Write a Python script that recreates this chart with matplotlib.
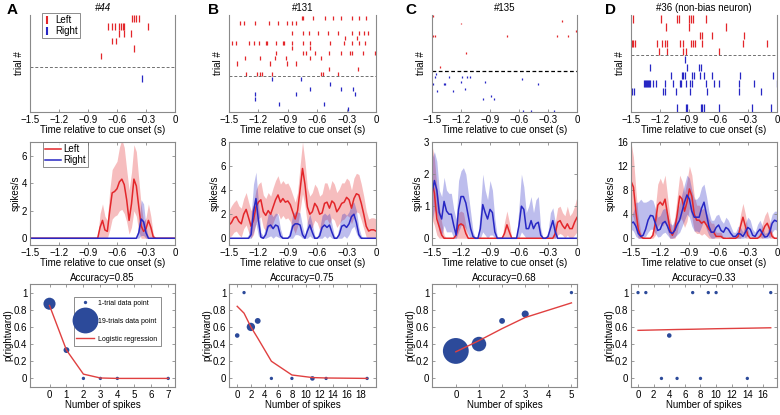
import numpy as np
import matplotlib.pyplot as plt
from matplotlib.lines import Line2D

plt.rcParams['font.family'] = ['Liberation Sans', 'DejaVu Sans']
plt.rcParams['font.size'] = 7

# ---------------- data ----------------
neuron_titles = ['#44', '#131', '#135', '#36 (non-bias neuron)']
accuracy = [0.85, 0.75, 0.68, 0.33]

# raster spike times (s), one list per trial, listed top to bottom
A_left = [[-0.44, -0.42, -0.40, -0.37],
          [-0.69, -0.655, -0.62, -0.58, -0.56, -0.54, -0.53, -0.28],
          [-0.58, -0.53, -0.46],
          [-0.65, -0.61],
          [-0.42],
          [-0.77],
          []]
A_right = [[], [-0.34], [], [], [], []]

B_left = [[-0.755, -0.74, -0.64, -0.52, -0.44, -0.36, -0.24, -0.17, -0.10],
          [-1.39, -1.35, -1.23, -1.09, -1.0, -0.91, -0.86, -0.82],
          [],
          [-0.86, -0.74, -0.68, -0.59, -0.49, -0.39, -0.24, -0.17, -0.12, -0.08],
          [-0.32, -0.19],
          [-1.47, -1.43, -1.30, -1.24, -1.19, -1.12, -1.11, -1.02, -0.95, -0.94,
           -0.86, -0.75, -0.67, -0.47, -0.33, -0.24, -0.17, -0.11],
          [-0.86, -0.67],
          [-1.02, -0.74, -0.71, -0.62, -0.48, -0.36, -0.27, -0.25, -0.13, -0.01],
          [-1.34, -1.18, -1.03, -0.92, -0.67, -0.56],
          [-1.42, -1.08, -0.91, -0.82],
          [-0.48, -0.18],
          [-1.33, -1.21, -1.18, -1.16, -1.06, -0.56, -0.54, -0.39]]
B_right = [[-1.06, -0.77], [-0.47], [-0.67, -0.36, -0.23], [-1.23, -0.82, -0.21],
           [-1.23], [-0.99, -0.53], [-0.29]]

C_left = [[-1.49], [], [-0.16], [-1.20], [], [], [-0.01], [],
          [-1.49, -1.47, -0.72, -0.21, -0.09],
          [], [], [], [], [], [],
          [-1.15], [], [], [], [], [], [-1.42], []]
C_right = [[], [-1.46], [-1.47, -1.32, -1.19, -1.14, -1.11], [-0.57], [-1.20, -0.95],
           [-1.49, -1.38, -1.37, -0.40], [], [-1.16], [-1.45, -1.28], [], [-0.89],
           [-0.97, -0.86], [], [], [], [], [-0.56, -0.48, -0.24]]

D_left = [[-1.48, -1.19, -1.03, -1.01, -0.90, -0.88, -0.86, -0.73],
          [-1.14, -0.90, -0.52],
          [-0.79, -0.77, -0.67, -0.34],
          [-1.49, -1.48, -1.46, -1.23, -1.18, -1.15, -1.13, -1.0, -0.97, -0.88,
           -0.86, -0.84, -0.77, -0.35, -0.10],
          [-1.21, -1.13, -0.97, -0.93, -0.60]]
D_right = [[-0.95],
           [-1.30, -0.92, -0.80, -0.78],
           [-1.09, -0.98, -0.97, -0.95, -0.87, -0.85, -0.79, -0.75, -0.67, -0.38, -0.04],
           [-1.37, -1.36, -1.35, -1.34, -1.33, -1.32, -1.30, -1.27, -1.24, -1.15, -1.07,
            -1.0, -0.99, -0.94, -0.89, -0.87, -0.73, -0.65, -0.60, -0.39, -0.24, -0.005],
           [-1.49, -1.47, -1.17, -1.15, -1.04, -0.89, -0.72, -0.39, -0.16],
           [],
           [-1.03, -0.94, -0.92, -0.78, -0.77, -0.75, -0.60, -0.26, -0.06]]

# firing rates (spikes/s) sampled every 25 ms from -1.5 s to 0 s (61 samples)
psth_t = np.linspace(-1.5, 0, 61)

A_red = [0] * 28 + [0, 0.8, 1.3, 0.6, 0.5, 2.0, 3.3, 3.4, 3.6, 4.1, 4.3, 3.9, 2.8, 1.3,
                    2.5, 4.3, 3.8, 2.3, 0.9, 0.5, 0.7, 1.3, 0.8, 0.1] + [0] * 9
A_red_hi = [0] * 28 + [0.1, 1.8, 2.5, 1.6, 1.3, 3.5, 5.0, 5.3, 5.6, 6.6, 7.2, 6.6, 5.0, 3.5,
                       4.8, 6.8, 6.3, 4.3, 2.4, 1.2, 1.5, 2.5, 1.6, 0.3] + [0] * 9
A_red_lo = [0] * 33 + [0.6, 1.4, 1.6, 1.7, 2.0, 2.1, 1.8, 1.2, 0.3, 0.8, 2.0, 1.6, 0.5] + [0] * 15
A_blue = [0] * 45 + [0.4, 1.4, 1.2, 0.4] + [0] * 12
A_blue_hi = [0] * 45 + [1.0, 2.8, 2.5, 0.9] + [0] * 12
A_blue_lo = [0] * 46 + [0.2, 0.2] + [0] * 13

B_red = [1.1, 1.3, 1.7, 1.8, 1.4, 1.2, 2.0, 2.4, 1.7, 1.0,
         1.5, 2.6, 3.0, 3.2, 2.2, 1.9, 2.3, 2.0, 2.6, 3.2,
         3.6, 3.0, 3.3, 3.0, 3.1, 2.8, 2.2, 1.6, 2.3, 4.0,
         5.8, 4.5, 2.6, 2.0, 2.2, 2.9, 2.6, 2.0, 2.1, 2.9,
         3.0, 2.5, 3.1, 2.9, 2.2, 2.5, 2.9, 3.0, 3.4, 3.2,
         2.5, 3.3, 3.7, 3.6, 2.9, 2.0, 1.0, 0.6, 0.7, 0.7, 0.6]
B_red_hi = [2.3, 2.7, 3.0, 3.2, 2.7, 2.5, 3.3, 3.8, 3.0, 2.3,
            2.8, 4.0, 4.5, 4.7, 3.6, 3.3, 3.8, 3.5, 4.2, 4.8,
            5.2, 4.5, 4.8, 4.5, 4.6, 4.2, 3.6, 3.0, 3.8, 6.0,
            8.0, 6.4, 4.2, 3.5, 3.8, 4.5, 4.2, 3.5, 3.7, 4.6,
            4.6, 4.0, 4.8, 4.5, 3.8, 4.1, 4.6, 4.6, 5.0, 4.8,
            4.0, 5.0, 5.4, 5.3, 4.5, 3.5, 2.3, 1.6, 1.7, 1.7, 1.6]
B_red_lo = [0.1, 0.2, 0.5, 0.6, 0.3, 0.1, 0.8, 1.1, 0.5, 0.0,
            0.3, 1.3, 1.6, 1.8, 0.9, 0.6, 1.0, 0.8, 1.3, 1.8,
            2.1, 1.6, 1.9, 1.6, 1.7, 1.4, 0.9, 0.4, 1.0, 2.3,
            3.7, 2.7, 1.2, 0.7, 0.9, 1.5, 1.3, 0.7, 0.8, 1.5,
            1.6, 1.2, 1.7, 1.5, 0.9, 1.2, 1.5, 1.6, 1.9, 1.8,
            1.2, 1.8, 2.2, 2.1, 1.5, 0.8, 0.1, 0.0, 0.0, 0.0, 0.0]
B_blue = [0] * 9 + [0.3, 2.2, 3.3, 1.5, 0.1, 0.0, 0.3, 1.0, 1.1, 0.8, 1.1, 1.0, 0.2, 0.0,
                    0.0, 0.0, 0.2, 1.0, 1.2, 1.2, 1.1, 0.3, 0.0, 0.6, 1.1, 0.5, 0.0, 0.0,
                    0.2, 0.9, 1.1, 0.9, 1.1, 0.5, 0.0, 0.0, 0.3, 1.0, 1.1, 0.9, 1.2, 1.8,
                    2.0, 1.3, 0.3] + [0] * 7
B_blue_hi = [0] * 8 + [0.3, 1.8, 4.5, 5.5, 3.0, 0.5, 0.2, 1.0, 2.0, 2.1, 1.8, 2.1, 2.0, 0.8,
                       0.1, 0.1, 0.1, 0.8, 2.0, 2.2, 2.2, 2.1, 1.0, 0.2, 1.4, 2.0, 1.2, 0.2,
                       0.1, 0.8, 1.9, 2.1, 1.9, 2.1, 1.2, 0.2, 0.1, 1.0, 2.0, 2.1, 1.9, 2.2,
                       2.9, 3.0, 2.3, 0.9, 0.2] + [0] * 6
B_blue_lo = [0, 0, 0, 0, 0, 0, 0, 0, 0, 0,
             0.5, 1.2, 0.2, 0, 0, 0, 0.1, 0.2, 0, 0.2,
             0.1, 0, 0, 0, 0, 0, 0, 0.3, 0.3, 0.2,
             0, 0, 0, 0.2, 0, 0, 0, 0, 0, 0.2,
             0, 0.2, 0, 0, 0, 0, 0, 0.2, 0, 0.3,
             0.8, 1.0, 0.4, 0, 0, 0, 0, 0, 0, 0, 0]

C_red = [1.8, 1.4, 0.6, 0.35, 0.1, 0, 0, 0, 0, 0,
         0.1, 0.4, 0.45, 0.4, 0.15, 0, 0, 0, 0, 0,
         0, 0, 0, 0, 0, 0, 0, 0, 0, 0,
         0.15, 0.42, 0.2, 0, 0, 0, 0, 0, 0, 0,
         0, 0, 0, 0, 0, 0, 0, 0, 0, 0,
         0, 0.15, 0.5, 0.55, 0.4, 0.3, 0.45, 0.3, 0.3, 0.5, 0.65]
C_red_hi = [2.9, 2.5, 1.6, 1.0, 0.5, 0.1, 0, 0, 0, 0,
            0.3, 0.8, 0.85, 0.8, 0.4, 0, 0, 0, 0, 0,
            0, 0, 0, 0, 0, 0, 0, 0, 0, 0,
            0.5, 0.85, 0.5, 0, 0, 0, 0, 0, 0, 0,
            0, 0, 0, 0, 0, 0, 0, 0, 0, 0,
            0, 0.5, 0.95, 1.0, 0.8, 0.7, 1.0, 0.7, 0.8, 1.0, 1.3]
C_red_lo = [0.6, 0.4, 0.1] + [0] * 49 + [0.1, 0.15, 0.1, 0, 0.1, 0, 0, 0.1, 0.2]
C_blue = [1.4, 1.8, 1.5, 0.8, 0.6, 1.15, 0.85, 0.75, 0.75, 0.4,
          0.1, 0.9, 1.3, 1.3, 1.1, 0.7, 0.3, 0.05, 0, 0,
          0.3, 1.05, 0.8, 0.6, 0.9, 0.8, 0.2, 0, 0, 0,
          0, 0, 0, 0, 0, 0, 0.4, 1.0, 0.9, 0.3,
          0.3, 0.55, 0.3, 0.45, 0.5, 0.1, 0, 0, 0.05, 0.3,
          0.55, 0.2, 0, 0, 0, 0, 0, 0, 0, 0, 0]
C_blue_hi = [2.5, 2.7, 2.4, 1.5, 1.3, 1.9, 1.5, 1.4, 1.4, 0.9,
             0.6, 1.8, 2.1, 2.2, 2.0, 1.4, 0.8, 0.2, 0, 0,
             0.9, 2.0, 1.5, 1.2, 1.8, 1.5, 0.6, 0.05, 0, 0,
             0, 0, 0, 0, 0, 0, 1.0, 2.0, 1.6, 0.8,
             1.0, 1.3, 0.8, 1.2, 1.3, 0.3, 0, 0, 0.2, 0.8,
             0.95, 0.5, 0, 0, 0, 0, 0, 0, 0, 0, 0]
C_blue_lo = [0.5, 0.9, 0.7, 0.2, 0.1, 0.4, 0.2, 0.2, 0.2, 0,
             0, 0.2, 0.4, 0.4, 0.3, 0.1, 0, 0, 0, 0,
             0, 0.2, 0.1, 0, 0.1, 0.1, 0, 0, 0, 0,
             0, 0, 0, 0, 0, 0, 0, 0.2, 0.1, 0] + [0] * 21

D_red = [9.5, 8.5, 4.5, 1.5, 0.3, 0, 0, 0, 0, 0.5,
         2.5, 5.5, 6.0, 5.5, 6.5, 4.0, 1.5, 0.5, 1.5, 4.0,
         7.0, 6.5, 4.5, 6.0, 8.2, 7.0, 4.0, 3.0, 3.0, 2.5,
         2.8, 2.2, 1.5, 1.0, 1.0, 0.3, 0.3, 0.3, 0, 0,
         0, 0, 0, 0, 0.3, 2.0, 3.5, 2.0, 0.5, 0,
         0, 0, 0, 0.3, 1.0, 2.0, 2.5, 1.5, 0.3, 0, 0]
D_red_hi = [16, 13.5, 8.0, 3.5, 1.0, 0.1, 0, 0, 0, 1.5,
            5.0, 9.0, 10.0, 9.0, 10.5, 7.0, 3.5, 1.5, 3.5, 7.0,
            10.5, 9.5, 7.5, 9.5, 12.0, 10.5, 7.0, 5.5, 5.5, 4.8,
            5.0, 4.2, 3.2, 2.5, 2.5, 1.0, 1.0, 1.0, 0.1, 0,
            0, 0, 0, 0, 1.0, 4.0, 5.8, 4.0, 1.5, 0,
            0, 0, 0, 1.0, 2.5, 3.8, 4.5, 3.0, 1.0, 0, 0]
D_red_lo = [4.0, 3.5, 1.2, 0, 0, 0, 0, 0, 0, 0,
            0.5, 2.0, 2.5, 2.0, 2.8, 1.2, 0, 0, 0, 1.0,
            3.5, 3.0, 1.8, 2.8, 5.0, 3.5, 1.2, 0.8, 0.8, 0.5,
            0.8, 0.4, 0, 0, 0, 0, 0, 0, 0, 0,
            0, 0, 0, 0, 0, 0, 1.0, 0, 0, 0,
            0, 0, 0, 0, 0, 0.4, 0.7, 0, 0, 0, 0]
D_blue = [2.5, 2.7, 2.0, 0.8, 0.3, 0.5, 1.5, 3.0, 3.8, 3.7,
          2.5, 1.3, 1.5, 2.5, 2.8, 2.0, 1.0, 0.8, 1.3, 2.3,
          3.0, 4.5, 6.0, 7.2, 6.5, 4.5, 3.5, 3.5, 3.5, 5.0,
          6.0, 4.0, 2.0, 1.0, 1.0, 1.8, 2.2, 1.3, 1.0, 1.8,
          1.5, 0.8, 0.3, 0.3, 0.8, 0.7, 0.3, 1.0, 1.8, 1.5,
          0.5, 0.3, 1.0, 1.5, 0.8, 0.2, 0.3, 1.0, 2.5, 3.0, 2.8]
D_blue_hi = [3.5, 4.5, 6.0, 6.0, 6.5, 6.0, 6.0, 6.2, 6.5, 6.3,
             5.0, 3.5, 3.8, 4.8, 5.0, 4.0, 2.5, 2.2, 3.0, 4.5,
             5.8, 7.5, 9.0, 10.5, 10.0, 8.0, 6.5, 6.5, 7.0, 8.5,
             9.0, 7.0, 4.5, 3.0, 3.0, 3.8, 4.0, 3.0, 2.5, 3.5,
             3.0, 2.0, 1.0, 1.0, 2.0, 1.8, 1.0, 2.5, 3.5, 3.0,
             1.5, 1.0, 2.3, 3.0, 2.0, 0.8, 1.0, 2.5, 4.0, 4.5, 4.5]
D_blue_lo = [1.5, 1.2, 0.3, 0, 0, 0, 0.3, 1.0, 1.5, 1.5,
             0.8, 0.2, 0.3, 0.8, 1.0, 0.5, 0, 0, 0.2, 0.6,
             1.0, 2.0, 3.0, 4.0, 3.5, 2.0, 1.2, 1.2, 1.0, 2.0,
             3.0, 1.5, 0.5, 0, 0, 0.3, 0.5, 0.1, 0, 0.3,
             0.2, 0, 0, 0, 0, 0, 0, 0.1, 0.5, 0.3,
             0, 0, 0.1, 0.3, 0, 0, 0, 0.1, 1.0, 1.5, 1.3]

psth_top = [7, 8, 3, 16]
psth_yticks = [[0, 2, 4, 6], [0, 2, 4, 6, 8], [0, 1, 2, 3], [0, 4, 8, 12, 16]]

# decoding: spike count, p(rightward), trials per point, logistic fit
A_count = [0, 1, 2, 3, 4, 7]
A_prob = [0.87, 0.33, 0, 0, 0, 0]
A_ntr = [8, 3, 1, 1, 1, 1]
A_fit = [0.85, 0.33, 0.05, 0.005, 0, 0]

B_count = [0, 1, 2, 3, 5, 8, 11, 13, 19]
B_prob = [0.5, 1, 0.6, 0.67, 0, 0, 0, 0, 0]
B_ntr = [2, 1, 5, 3, 1, 1, 2, 1, 1]
B_fit = [0.84, 0.76, 0.6, 0.47, 0.2, 0.04, 0.01, 0.005, 0]

C_count = [0, 1, 2, 3, 5]
C_prob = [0.32, 0.4, 0.67, 0.75, 1.0]
C_ntr = [19, 10, 3, 4, 1]
C_fit = [0.31, 0.44, 0.58, 0.71, 0.88]

D_count = [0, 1, 3, 4, 5, 7, 8, 9, 10, 14, 17]
D_prob = [1, 1, 0, 0.5, 0, 1, 0, 1, 1, 0, 1]
D_ntr = [1, 1, 1, 2, 1, 1, 1, 1, 1, 1, 1]
D_fit = [0.56, 0.562, 0.566, 0.568, 0.57, 0.573, 0.575, 0.577, 0.579, 0.585, 0.59]

count_xlim = [(-1.15, 7.4), (-1.2, 20.3), (-1.03, 5.24), (-0.9, 17.8)]
count_xticks = [list(range(0, 8)), list(range(0, 19, 2)), list(range(0, 6)), list(range(0, 17, 2))]

# ---------------- style ----------------
RED = '#e3262a'
BLUE = '#2727c4'
DOT = '#2c4a9a'
FIT = '#e04040'
GRAY = '#8a8a8a'
W, H = 780, 415
cols = [(30, 175), (229, 376), (432, 577), (631, 777)]
time_ticks = [-1.5, -1.2, -0.9, -0.6, -0.3, 0]
time_labels = ['\u22121.5', '\u22121.2', '\u22120.9', '\u22120.6', '\u22120.3', '0']

fig = plt.figure(figsize=(7.8, 4.15), dpi=100)


def add_ax(col, top, bottom):
    l, r = cols[col]
    return fig.add_axes([l / W, 1 - bottom / H, (r - l) / W, (bottom - top) / H])


def style(ax, box=True):
    for s in ax.spines.values():
        s.set_color(GRAY)
        s.set_linewidth(0.8)
    ax.tick_params(direction='in', color=GRAY, length=2.5, width=0.6,
                   labelsize=7, pad=2, top=box, right=box)


rasters = [(A_left, A_right), (B_left, B_right), (C_left, C_right), (D_left, D_right)]
psths = [(A_red, A_red_lo, A_red_hi, A_blue, A_blue_lo, A_blue_hi),
         (B_red, B_red_lo, B_red_hi, B_blue, B_blue_lo, B_blue_hi),
         (C_red, C_red_lo, C_red_hi, C_blue, C_blue_lo, C_blue_hi),
         (D_red, D_red_lo, D_red_hi, D_blue, D_blue_lo, D_blue_hi)]
decoding = [(A_count, A_prob, A_ntr, A_fit), (B_count, B_prob, B_ntr, B_fit),
            (C_count, C_prob, C_ntr, C_fit), (D_count, D_prob, D_ntr, D_fit)]


def dot_size(n):
    return 1.5 + 0.9 * n


for c in range(4):
    # ---- raster ----
    ax = add_ax(c, 15, 112)
    left, right = rasters[c]
    n_right = len(right)
    n_all = n_right + len(left)
    half = 0.4 if c in (1, 2) else 0.45
    for i, trial in enumerate(left):
        y = n_all - i
        if trial:
            ax.vlines(trial, y - half, y + half, color=RED, lw=0.9)
    for j, trial in enumerate(right):
        y = n_right - j
        if trial:
            ax.vlines(trial, y - half, y + half, color=BLUE, lw=0.9)
    if c == 2:
        ax.axhline(n_right + 0.5, ls='--', color='black', lw=0.9, dashes=(3, 2))
    else:
        ax.axhline(n_right + 0.5, ls='--', color='#707070', lw=0.7, dashes=(3, 2))
    ax.set_xlim(-1.5, 0)
    ax.set_ylim(0.5, n_all + 0.5)
    style(ax, box=False)
    ax.spines['top'].set_visible(False)
    ax.set_yticks([])
    ax.set_xticks(time_ticks)
    ax.set_xticklabels(time_labels)
    ax.set_xlabel('Time relative to cue onset (s)', labelpad=0)
    ax.set_ylabel('trial #', labelpad=4)
    ax.set_title(neuron_titles[c], fontsize=7, pad=3,
                 style='italic' if c == 0 else 'normal')
    if c == 0:
        hl = [Line2D([], [], ls='none', marker='|', ms=6, mew=1.5, color=RED),
              Line2D([], [], ls='none', marker='|', ms=6, mew=1.5, color=BLUE)]
        ax.legend(hl, ['Left', 'Right'], loc='upper left', bbox_to_anchor=(0.08, 1.02),
                  fontsize=7, frameon=True, fancybox=False, edgecolor='0.35',
                  borderpad=0.2, handlelength=0.8, handletextpad=0.4,
                  labelspacing=0.1, borderaxespad=0).get_frame().set_linewidth(0.6)

    # ---- PSTH ----
    ax = add_ax(c, 142, 245)
    red, red_lo, red_hi, blue, blue_lo, blue_hi = psths[c]
    ax.fill_between(psth_t, red_lo, red_hi, color=RED, alpha=0.3, lw=0)
    ax.fill_between(psth_t, blue_lo, blue_hi, color=BLUE, alpha=0.3, lw=0)
    ax.plot(psth_t, red, color=RED, lw=1.1, label='Left')
    ax.plot(psth_t, blue, color=BLUE, lw=1.1, label='Right')
    top = psth_top[c]
    ax.set_xlim(-1.5, 0)
    ax.set_ylim(-0.07 * top, top)
    ax.set_yticks(psth_yticks[c])
    ax.set_xticks(time_ticks)
    ax.set_xticklabels(time_labels)
    style(ax)
    ax.set_xlabel('Time relative to cue onset (s)', labelpad=0)
    ax.set_ylabel('spikes/s', labelpad=1)
    if c == 0:
        ax.legend(loc='upper left', bbox_to_anchor=(0.09, 1.0), fontsize=7,
                  fancybox=False, edgecolor='0.35', borderpad=0.2, handlelength=1.6,
                  handletextpad=0.3, labelspacing=0.1,
                  borderaxespad=0).get_frame().set_linewidth(0.6)

    # ---- decoding ----
    ax = add_ax(c, 284, 387)
    cnt, prob, ntr, fit = decoding[c]
    ax.plot(cnt, fit, color=FIT, lw=1.0, zorder=3)
    ax.scatter(cnt, prob, s=[dot_size(n) ** 2 for n in ntr], color=DOT,
               edgecolors='none', zorder=2)
    ax.set_xlim(*count_xlim[c])
    ax.set_ylim(-0.1, 1.1)
    ax.set_xticks(count_xticks[c])
    ax.set_yticks([0, 0.2, 0.4, 0.6, 0.8, 1])
    ax.set_yticklabels(['0', '0.2', '0.4', '0.6', '0.8', '1'])
    style(ax)
    ax.set_xlabel('Number of spikes', labelpad=0)
    ax.set_ylabel('p(rightward)', labelpad=0)
    ax.set_title('Accuracy=%.2f' % accuracy[c], fontsize=7, pad=2)
    if c == 0:
        hl = [Line2D([], [], ls='none', marker='o', ms=dot_size(1), color=DOT, mec='none'),
              Line2D([], [], ls='none', marker='o', ms=dot_size(19), color=DOT, mec='none'),
              Line2D([], [], color=FIT, lw=1.0)]
        ax.legend(hl, ['1-trial data point', '19-trials data point', 'Logistic regression'],
                  loc='upper left', bbox_to_anchor=(0.30, 0.875), fontsize=5,
                  fancybox=False, edgecolor='0.35', borderpad=0.4, handlelength=2.6,
                  handletextpad=0.6, labelspacing=1.6,
                  borderaxespad=0).get_frame().set_linewidth(0.6)

# panel letters
for c, letter in enumerate('ABCD'):
    xs = [7, 208, 405, 605][c]
    fig.text(xs / W, 1 - 10 / H, letter, fontsize=11, fontweight='bold', va='center')

fig.savefig('out.png', dpi=100)
